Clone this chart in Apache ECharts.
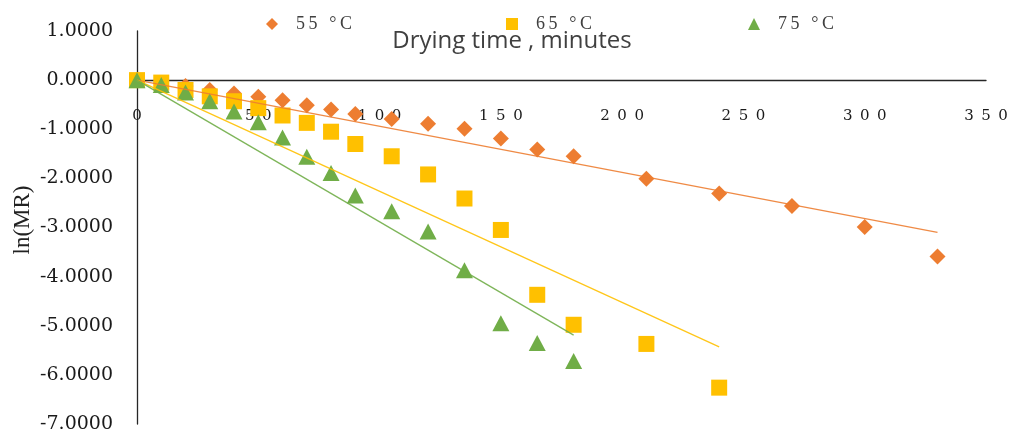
<!DOCTYPE html>
<html>
<head>
<meta charset="utf-8">
<script src="https://cdn.jsdelivr.net/npm/echarts@6/dist/echarts.min.js"></script>
<style>html,body{margin:0;padding:0;background:#fff;}#c{width:1013px;height:436px;}</style>
</head>
<body>
<div id="c"></div>
<script>
// ---- data ----
var seriesNames = ['55 °C', '65 °C', '75 °C'];
var times55 = [0,10,20,30,40,50,60,70,80,90,105,120,135,150,165,180,210,240,270,300,330];
var ln55 = [0,-0.06,-0.12,-0.20,-0.27,-0.34,-0.41,-0.51,-0.60,-0.69,-0.79,-0.89,-0.99,-1.19,-1.41,-1.55,-2.01,-2.31,-2.56,-2.99,-3.59];
var times65 = [0,10,20,30,40,50,60,70,80,90,105,120,135,150,165,180,210,240];
var ln65 = [0,-0.05,-0.20,-0.33,-0.43,-0.57,-0.72,-0.87,-1.05,-1.30,-1.55,-1.92,-2.41,-3.05,-4.37,-4.98,-5.37,-6.26];
var times75 = [0,10,20,30,40,50,60,70,80,90,105,120,135,150,165,180];
var ln75 = [0,-0.10,-0.25,-0.43,-0.64,-0.86,-1.17,-1.56,-1.89,-2.35,-2.67,-3.08,-3.87,-4.95,-5.35,-5.72];
// trend lines: start and end points
var trend55T = [0, 330], trend55V = [0, -3.10];
var trend65T = [0, 240], trend65V = [0, -5.43];
var trend75T = [0, 180], trend75V = [0, -5.19];
var xTicks = [0, 50, 100, 150, 200, 250, 300, 350];
var yTicks = [1, 0, -1, -2, -3, -4, -5, -6, -7];
var xTitle = 'Drying time , minutes';
var yTitle = 'ln(MR)';

function pairs(a, b) { return a.map(function (t, i) { return [t, b[i]]; }); }
function spaced(s, sep) { return String(s).split('').join(sep); }

var colors = ['#ED7D31', '#FFC000', '#70AD47'];
var symbols = ['diamond', 'rect', 'triangle'];
var symSizes = [[16, 16], [16, 16], [17, 16]];

var chart = echarts.init(document.getElementById('c'), null, { renderer: 'canvas' });

var legendLefts = [261, 501, 743];
var legends = seriesNames.map(function (n, i) {
  return {
    data: [{ name: n, icon: symbols[i] }],
    left: legendLefts[i], top: 10,
    itemWidth: 12, itemHeight: 12, itemGap: 0,
    formatter: function (name) { return spaced(name, '\u2009'); },
    textStyle: { fontFamily: 'Liberation Serif', fontSize: 18, color: '#404040', padding: [0, 0, 0, 13] },
    selectedMode: false
  };
});

var dataSets = [[times55, ln55], [times65, ln65], [times75, ln75]];
var trends = [[trend55T, trend55V], [trend65T, trend65V], [trend75T, trend75V]];

var gridTop = 31, gridBottomPx = 424, H = 436;
var yMin = yTicks[yTicks.length - 1], yMax = yTicks[0];
// pixel offset that lifts the bottom x axis up to the value 0 line
var zeroOffset = -((gridBottomPx - gridTop) * (0 - yMin) / (yMax - yMin));

var series = [];
seriesNames.forEach(function (n, i) {
  series.push({
    name: n, type: 'scatter', symbol: symbols[i], symbolSize: symSizes[i],
    itemStyle: { color: colors[i], opacity: 1 },
    data: pairs(dataSets[i][0], dataSets[i][1]), z: 2 + i
  });
});
seriesNames.forEach(function (n, i) {
  series.push({
    name: n + ' trend', type: 'line', showSymbol: false, symbol: 'none',
    lineStyle: { color: colors[i], width: 1.3, opacity: 0.9 },
    data: pairs(trends[i][0], trends[i][1]), z: 6, silent: true
  });
});

chart.setOption({
  animation: false,
  backgroundColor: '#ffffff',
  legend: legends,
  grid: { left: 137, right: 27, top: gridTop, bottom: H - gridBottomPx, containLabel: false, outerBoundsMode: 'none' },
  graphic: [{
    type: 'text', x: 512, y: 41, z: 1,
    style: { text: xTitle, font: '24px "Open Sans"', fill: '#404040', textAlign: 'center', textVerticalAlign: 'middle' }
  }, {
    type: 'text', x: 23, y: 220, rotation: Math.PI / 2, z: 1,
    style: { text: yTitle, font: '23px "Liberation Serif"', fill: '#222', textAlign: 'center', textVerticalAlign: 'middle' }
  }],
  xAxis: {
    type: 'value', min: xTicks[0], max: xTicks[xTicks.length - 1], interval: 50,
    position: 'bottom', offset: zeroOffset,
    axisLine: { onZero: false, lineStyle: { color: '#262626', width: 1.3 } },
    axisTick: { show: false },
    splitLine: { show: false },
    axisLabel: {
      margin: 28, fontFamily: 'DejaVu Serif', fontSize: 15, color: '#1a1a1a',
      formatter: function (v) { return spaced(v, '\u2002'); }
    }
  },
  yAxis: {
    type: 'value', min: yMin, max: yMax, interval: 1,
    axisLine: { onZero: false, lineStyle: { color: '#262626', width: 1.3 } },
    axisTick: { show: false },
    splitLine: { show: false },
    axisLabel: {
      margin: 24, fontFamily: 'DejaVu Serif', fontSize: 19, color: '#1a1a1a',
      formatter: function (v) { return v.toFixed(4); }
    }
  },
  series: series
});
</script>
</body>
</html>
